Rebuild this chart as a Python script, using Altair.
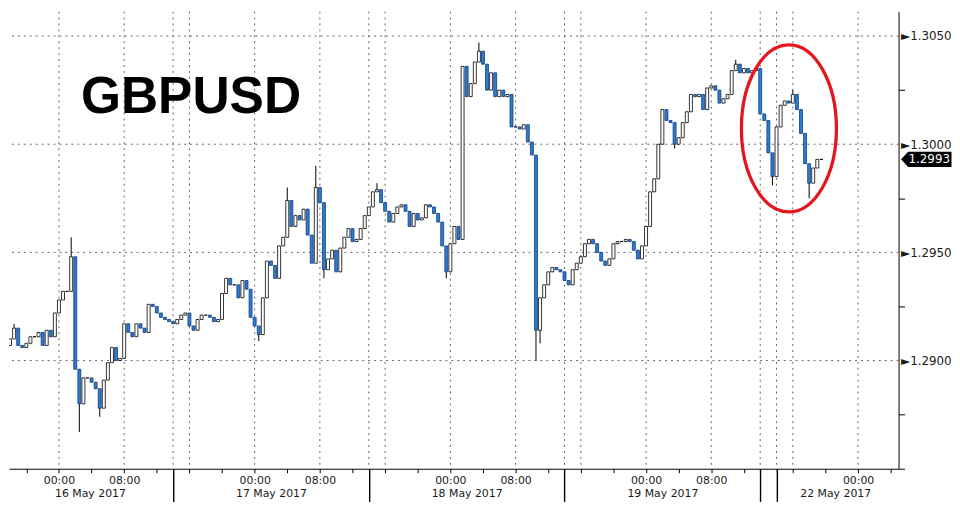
import pandas as pd
import altair as alt

# GBPUSD 30-minute closes, 16-22 May 2017 (weekend squeezed out, like the terminal chart)
CLOSES = [
    1.2907, 1.2910, 1.2915, 1.2907, 1.2906, 1.2908, 1.2911, 1.2911, 1.2913, 1.2907,
    1.2914, 1.2911, 1.2922, 1.2928, 1.2932, 1.2932, 1.2948, 1.2896, 1.2880, 1.2892,
    1.2892, 1.2890, 1.2887, 1.2878, 1.2891, 1.2899, 1.2906, 1.2900, 1.2901, 1.2917,
    1.2913, 1.2911, 1.2917, 1.2915, 1.2913, 1.2926, 1.2925, 1.2922, 1.2920, 1.2919,
    1.2918, 1.2917, 1.2919, 1.2921, 1.2922, 1.2916, 1.2914, 1.2919, 1.2921, 1.2921,
    1.2920, 1.2918, 1.2919, 1.2931, 1.2938, 1.2935, 1.2935, 1.2929, 1.2937, 1.2933,
    1.2920, 1.2916, 1.2912, 1.2929, 1.2946, 1.2944, 1.2938, 1.2953, 1.2957, 1.2974,
    1.2962, 1.2967, 1.2965, 1.2970, 1.2958, 1.2945, 1.2980, 1.2973, 1.2942, 1.2947,
    1.2951, 1.2941, 1.2952, 1.2957, 1.2961, 1.2955, 1.2956, 1.2961, 1.2967, 1.2971,
    1.2978, 1.2979, 1.2973, 1.2969, 1.2964, 1.2968, 1.2971, 1.2972, 1.2969, 1.2962,
    1.2968, 1.2965, 1.2966, 1.2972, 1.2971, 1.2968, 1.2964, 1.2953, 1.2941, 1.2954,
    1.2962, 1.2956, 1.3036, 1.3022, 1.3028, 1.3038, 1.3043, 1.3037, 1.3025, 1.3033,
    1.3022, 1.3025, 1.3022, 1.3023, 1.3008, 1.3008, 1.3007, 1.3009, 1.3001, 1.2995,
    1.2914, 1.2929, 1.2935, 1.2941, 1.2943, 1.2942, 1.2941, 1.2937, 1.2935, 1.2942,
    1.2945, 1.2948, 1.2954, 1.2956, 1.2954, 1.2950, 1.2946, 1.2944, 1.2947, 1.2954,
    1.2955, 1.2955, 1.2956, 1.2955, 1.2951, 1.2947, 1.2953, 1.2962, 1.2978, 1.2984,
    1.3000, 1.3016, 1.3011, 1.3010, 1.3000, 1.3003, 1.3010, 1.3015, 1.3023, 1.3022,
    1.3023, 1.3016, 1.3026, 1.3027, 1.3025, 1.3019, 1.3021, 1.3023, 1.3034, 1.3037,
    1.3033, 1.3035, 1.3033, 1.3034, 1.3035, 1.3014, 1.3011, 1.2996, 1.2985, 1.3008,
    1.3018, 1.3020, 1.3019, 1.3023, 1.3016, 1.3005, 1.2991, 1.2982, 1.2989, 1.2993,
    1.2993,
]
FIRST_OPEN = 1.2905
BAR_START = -6.5   # hours after 16 May 00:00 on the squeezed axis
BAR_STEP = 0.5

# the wicks that stick out beyond the candle bodies
WICK_HIGHS = {2: 1.2917, 16: 1.2957, 69: 1.2980, 76: 1.2990, 91: 1.2982,
              116: 1.3047, 179: 1.3039, 193: 1.3025}
WICK_LOWS = {18: 1.2867, 23: 1.2874, 62: 1.2909, 78: 1.2938, 108: 1.2938,
             130: 1.2900, 131: 1.2908, 164: 1.2998, 188: 1.2981, 197: 1.2975}

# x axis (hours on the squeezed axis)
X_DOMAIN = [-5.52, 102.36]
GRID_HOURS = [0, 8, 14, 16, 24, 32, 38, 40, 48, 56, 62, 64, 72, 80, 86, 88, 90, 98]
TICK_HOURS = [-4, 0, 4, 8, 12, 16, 20, 24, 28, 32, 36, 40, 44, 48, 52, 56, 60, 64,
              68, 72, 76, 80, 84, 88, 90, 94, 98, 102]
SEPARATOR_HOURS = [14, 38, 62, 86, 88]
TIME_LABELS = {0: "00:00", 8: "08:00", 24: "00:00", 32: "08:00", 48: "00:00",
               56: "08:00", 72: "00:00", 80: "08:00", 98: "00:00"}
DATE_HOURS = [3.8, 26, 50, 74, 95.2]
DATE_LABELS = ["16 May 2017", "17 May 2017", "18 May 2017", "19 May 2017", "22 May 2017"]

# y axis
Y_DOMAIN = [1.2850, 1.30613]
PRICE_GRID = [1.2900, 1.2950, 1.3000, 1.3050]
PRICE_TICKS = [1.2850, 1.2875, 1.2900, 1.2925, 1.2950, 1.2975, 1.3000, 1.3025, 1.3050]

# annotations
TITLE = "GBPUSD"
TITLE_AT = (2.7, 1.30143)
ELLIPSE_AT = (89.52, 1.30073)

BLUE = "#2b7bd6"
BLUE_EDGE = "#123f78"
GRID_COLOR = "#666666"
FONT = "DejaVu Sans"


def js_map(keys, labels):
    pairs = ",".join(f"'{k:g}':'{v}'" for k, v in zip(keys, labels))
    return "({" + pairs + "})[datum.value] || ''"


def main():
    rows = []
    prev = FIRST_OPEN
    for i, c in enumerate(CLOSES):
        rows.append({
            "h": BAR_START + BAR_STEP * i,
            "open": prev,
            "close": c,
            "high": max(prev, c, WICK_HIGHS.get(i, c)),
            "low": min(prev, c, WICK_LOWS.get(i, c)),
            "dir": "up" if c >= prev else "down",
        })
        prev = c
    candles = pd.DataFrame(rows)

    xs = alt.Scale(domain=X_DOMAIN, nice=False, zero=False)
    ys = alt.Scale(domain=Y_DOMAIN, nice=False, zero=False)

    grid_v = alt.Chart(pd.DataFrame({"h": GRID_HOURS})).mark_rule(
        color=GRID_COLOR, strokeDash=[2, 4], strokeWidth=1
    ).encode(x=alt.X("h:Q", scale=xs, axis=None))

    grid_h = alt.Chart(pd.DataFrame({"p": PRICE_GRID})).mark_rule(
        color=GRID_COLOR, strokeDash=[2, 4], strokeWidth=1
    ).encode(y=alt.Y("p:Q", scale=ys, axis=None))

    wicks = alt.Chart(candles).mark_rule(color="black", strokeWidth=1, clip=True).encode(
        x=alt.X("h:Q", scale=xs, axis=None),
        y=alt.Y("low:Q", scale=ys, axis=None),
        y2="high:Q",
    )

    major = "datum.value > 1.288 && round(datum.value * 10000) % 50 == 0"
    time_axis = alt.Axis(
        values=TICK_HOURS, orient="bottom", labelExpr=js_map(TIME_LABELS.keys(), TIME_LABELS.values()),
        tickSize=4, tickColor="black", domainColor="black", domainWidth=1,
        labelFont=FONT, labelFontSize=11, labelColor="#1a1a1a", labelPadding=2,
        labelOverlap=False, labelFlush=False, grid=False,
    )
    price_axis = alt.Axis(
        values=PRICE_TICKS, orient="right",
        labelExpr=f"{major} ? '\u25ba' + format(datum.value, '.4f') : ''",
        tickSize=6, tickColor="black",
        tickOpacity={"condition": {"test": major, "value": 0}, "value": 1},
        domainColor="black", labelPadding=-4, labelFont=FONT, labelFontSize=12,
        labelColor="#1a1a1a", labelOverlap=False, labelFlush=False, grid=False,
    )
    bodies = alt.Chart(candles).mark_bar(size=3, strokeWidth=0.8, clip=True).encode(
        x=alt.X("h:Q", scale=xs, axis=time_axis, title=None),
        y=alt.Y("open:Q", scale=ys, axis=price_axis, title=None),
        y2="close:Q",
        fill=alt.Fill("dir:N", scale=alt.Scale(domain=["up", "down"], range=["white", BLUE]), legend=None),
        stroke=alt.Stroke("dir:N", scale=alt.Scale(domain=["up", "down"], range=["black", BLUE_EDGE]), legend=None),
    )

    title = alt.Chart(pd.DataFrame({"h": [TITLE_AT[0]], "p": [TITLE_AT[1]], "t": [TITLE]})).mark_text(
        align="left", baseline="alphabetic", font="Liberation Sans", fontWeight="bold",
        fontSize=52, color="black"
    ).encode(
        x=alt.X("h:Q", scale=xs, axis=None),
        y=alt.Y("p:Q", scale=ys, axis=None),
        text="t:N",
    )

    # red ring round the Monday move
    k = 0.5523
    a = 0.569
    ring_path = (
        f"M0,-1C{k*a:.4f},-1 {a},-{k} {a},0C{a},{k} {k*a:.4f},1 0,1"
        f"C-{k*a:.4f},1 -{a},{k} -{a},0C-{a},-{k} -{k*a:.4f},-1 0,-1Z"
    )
    ring = alt.Chart(pd.DataFrame({"h": [ELLIPSE_AT[0]], "p": [ELLIPSE_AT[1]]})).mark_point(
        shape=ring_path, size=28493, filled=False, color="#e3161e", strokeWidth=3.3, opacity=1
    ).encode(
        x=alt.X("h:Q", scale=xs, axis=None),
        y=alt.Y("p:Q", scale=ys, axis=None),
    )

    # last price tag on the right axis
    last = pd.DataFrame({"p": [CLOSES[-1]], "t": [f"{CLOSES[-1]:.4f}"]})
    tag = alt.Chart(last).mark_point(
        shape="M-1,0L-0.72,-0.3L1,-0.3L1,0.3L-0.72,0.3Z", size=2600, filled=True,
        color="black", opacity=1
    ).encode(x=alt.value(927), y=alt.Y("p:Q", scale=ys, axis=None))
    tag_text = alt.Chart(last).mark_text(
        font=FONT, fontSize=12, color="white", align="center", baseline="middle"
    ).encode(x=alt.value(930), y=alt.Y("p:Q", scale=ys, axis=None), text="t:N")

    # extra bottom axes: day separators and the date row
    seps = alt.Chart(pd.DataFrame({"h": SEPARATOR_HOURS})).mark_rule(opacity=0).encode(
        x=alt.X("h:Q", scale=xs, title=None, axis=alt.Axis(
            values=SEPARATOR_HOURS, orient="bottom", tickSize=33, tickWidth=1.4,
            tickColor="black", labels=False, domain=False, grid=False))
    )
    dates = alt.Chart(pd.DataFrame({"h": DATE_HOURS})).mark_rule(opacity=0).encode(
        x=alt.X("h:Q", scale=xs, title=None, axis=alt.Axis(
            values=DATE_HOURS, orient="bottom", ticks=False, tickSize=0, domain=False,
            labelExpr=js_map(DATE_HOURS, DATE_LABELS), labelPadding=19,
            labelFont=FONT, labelFontSize=11, labelColor="#1a1a1a",
            labelOverlap=False, labelFlush=False, grid=False))
    )

    chart = (
        alt.layer(grid_v, grid_h, wicks, bodies, title, ring, tag, tag_text, seps, dates)
        .resolve_axis(x="independent", y="independent")
        .properties(width=899, height=462, padding=0, background="white")
        .configure_view(stroke=None)
    )
    chart.save("out.html", embed_options={"renderer": "svg", "actions": False})


if __name__ == "__main__":
    main()
